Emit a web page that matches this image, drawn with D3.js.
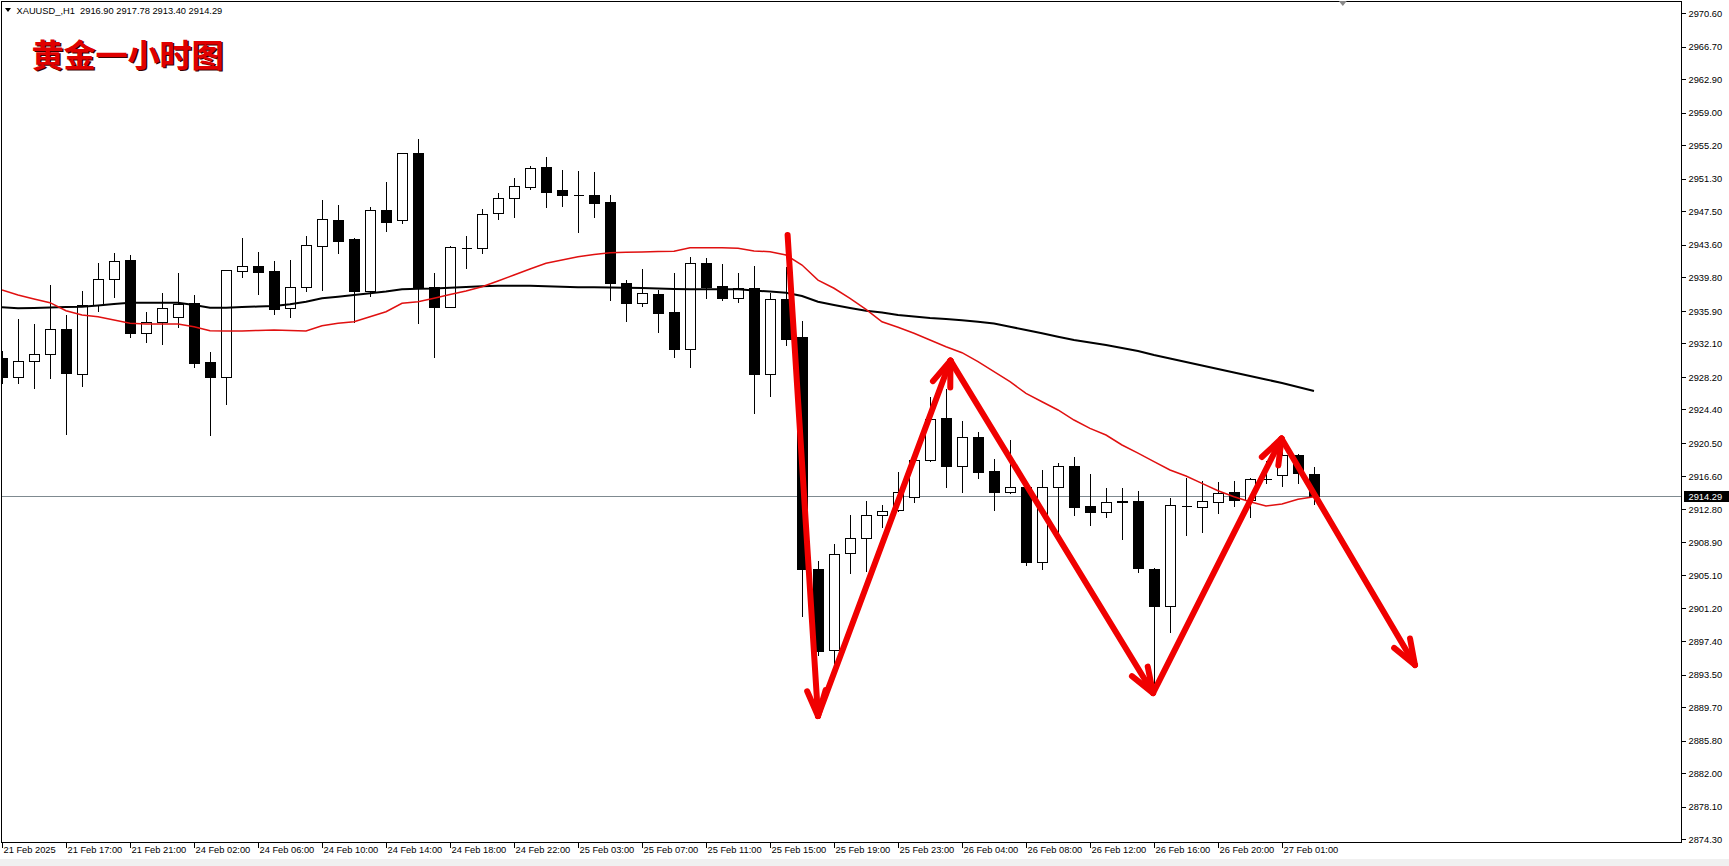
<!DOCTYPE html>
<html><head><meta charset="utf-8">
<script src="https://cdn.jsdelivr.net/npm/d3@7"></script>
<style>
html,body{margin:0;padding:0;background:#fff;overflow:hidden;}
svg{display:block;}
.ax text{font-family:"Liberation Sans",Arial,sans-serif;font-size:9.3px;fill:#000;}
</style></head>
<body>
<svg id="chart" width="1729" height="866"></svg>
<script>
// ---------- data ----------
const symbolTitle = "XAUUSD_,H1  2916.90 2917.78 2913.40 2914.29";
const chartTitle = "黄金一小时图";
const openP = [2930.36,2928.22,2930.01,2930.83,2933.74,2928.49,2936.54,2939.57,2941.79,2933.28,
2934.56,2935.14,2936.77,2929.90,2928.15,2940.54,2941.13,2940.54,2936.19,2938.64,
2943.42,2946.49,2944.27,2938.25,2947.66,2946.45,2954.26,2938.64,2936.38,2943.19,
2943.19,2947.27,2949.02,2950.37,2952.67,2949.99,2949.44,2949.40,2948.59,2939.10,
2936.77,2937.86,2935.72,2931.49,2941.44,2938.79,2937.36,2938.52,2928.49,2937.28,
2932.89,2905.76,2896.35,2907.63,2909.37,2912.05,2912.68,2914.15,2918.51,2923.37,
2917.85,2921.23,2917.22,2914.82,2915.40,2906.58,2915.32,2917.85,2913.14,2912.48,
2913.65,2913.77,2905.76,2901.52,2913.14,2913.07,2913.65,2914.74,2913.84,2916.25,
2916.76,2919.09,2916.90];
const highP = [2931.33,2935.02,2934.52,2939.03,2935.49,2938.33,2941.55,2942.72,2942.49,2935.88,
2938.06,2940.39,2937.86,2931.22,2940.70,2944.47,2942.87,2941.83,2941.94,2944.70,
2948.94,2948.35,2944.55,2948.12,2951.04,2954.38,2956.01,2940.39,2943.57,2944.74,
2947.85,2949.79,2951.54,2952.90,2953.95,2952.44,2952.32,2952.20,2949.52,2939.57,
2940.93,2938.44,2940.39,2942.29,2942.21,2941.44,2940.39,2941.24,2938.13,2941.13,
2934.83,2906.85,2908.87,2912.21,2913.84,2913.34,2917.26,2918.70,2925.97,2926.90,
2923.17,2921.89,2918.70,2920.96,2915.79,2917.42,2918.24,2918.97,2916.95,2915.40,
2915.40,2915.01,2906.07,2914.15,2916.56,2916.18,2916.10,2916.18,2916.56,2918.51,
2919.67,2919.28,2917.78];
const lowP = [2927.45,2927.45,2926.86,2928.03,2921.50,2927.17,2935.92,2937.55,2932.81,2932.30,
2931.99,2934.05,2929.39,2921.42,2925.00,2939.88,2937.82,2935.49,2935.14,2938.25,
2938.33,2942.68,2934.64,2937.63,2945.21,2946.10,2934.52,2930.56,2936.31,2940.85,
2942.68,2946.61,2946.88,2950.10,2948.04,2948.16,2945.13,2946.88,2937.16,2934.75,
2936.50,2933.39,2930.56,2929.39,2937.36,2937.16,2936.97,2923.95,2925.97,2931.88,
2900.32,2895.80,2894.80,2905.29,2905.60,2910.73,2912.60,2913.65,2918.45,2915.40,
2914.82,2916.37,2912.68,2914.70,2906.30,2905.76,2909.96,2912.09,2910.93,2911.90,
2909.26,2905.49,2892.47,2898.49,2909.76,2910.15,2912.29,2913.14,2911.90,2915.86,
2915.48,2915.79,2913.40];
const closeP = [2928.22,2930.05,2930.83,2933.74,2928.61,2936.54,2939.57,2941.67,2933.28,2934.56,
2936.19,2936.70,2929.86,2928.15,2940.62,2941.13,2940.47,2936.15,2938.64,2943.54,
2946.61,2944.08,2938.25,2947.66,2946.29,2954.26,2938.52,2936.38,2943.38,2943.26,
2947.15,2949.02,2950.45,2952.51,2949.79,2949.44,2949.40,2948.51,2939.18,2936.77,
2937.94,2935.68,2931.49,2941.44,2938.72,2937.36,2938.52,2928.49,2937.24,2932.65,
2905.76,2896.28,2907.51,2909.37,2912.09,2912.60,2914.82,2918.51,2923.25,2917.85,
2921.23,2917.15,2914.82,2915.32,2906.58,2915.32,2917.85,2913.07,2912.48,2913.65,
2913.73,2905.88,2901.52,2913.26,2913.20,2913.69,2914.70,2913.84,2916.25,2916.30,
2919.09,2916.95,2914.29];
const maRed = [2938.33,2937.74,2937.28,2936.85,2935.91,2935.41,2935.21,2934.83,2934.45,2934.36,
2934.36,2934.36,2934.05,2933.58,2933.55,2933.55,2933.61,2933.66,2933.61,2933.55,
2934.17,2934.45,2934.63,2935.21,2935.80,2936.78,2936.96,2937.36,2937.80,2938.21,
2938.71,2939.38,2940.08,2940.78,2941.44,2941.83,2942.21,2942.47,2942.68,2942.72,
2942.76,2942.82,2942.84,2943.26,2943.26,2943.26,2943.19,2942.88,2942.79,2942.41,
2941.24,2939.49,2938.53,2937.36,2936.08,2934.63,2933.98,2933.28,2932.50,2931.72,
2931.02,2929.97,2928.80,2927.64,2926.28,2925.30,2924.34,2923.17,2922.20,2921.42,
2920.26,2919.32,2918.33,2917.34,2916.64,2915.79,2914.93,2914.23,2913.65,2913.14,
2913.37,2913.93,2914.23];
const maBlack = [2936.31,2936.19,2936.23,2936.29,2936.35,2936.38,2936.52,2936.70,2936.85,2936.85,
2936.85,2936.85,2936.58,2936.26,2936.26,2936.35,2936.40,2936.46,2936.66,2936.96,
2937.36,2937.55,2937.74,2937.94,2938.15,2938.41,2938.48,2938.50,2938.60,2938.68,
2938.76,2938.82,2938.83,2938.82,2938.76,2938.70,2938.64,2938.64,2938.62,2938.60,
2938.56,2938.50,2938.44,2938.41,2938.41,2938.41,2938.41,2938.27,2938.15,2938.01,
2937.63,2936.96,2936.58,2936.23,2935.91,2935.70,2935.41,2935.24,2935.06,2934.95,
2934.80,2934.63,2934.42,2934.05,2933.66,2933.28,2932.88,2932.50,2932.21,2931.92,
2931.57,2931.22,2930.75,2930.34,2929.93,2929.53,2929.12,2928.71,2928.30,2927.89,
2927.49,2927.02,2926.55];
const priceTicks = [2970.60,2966.70,2962.90,2959.00,2955.20,2951.30,2947.50,2943.60,2939.80,2935.90,
2932.10,2928.20,2924.40,2920.50,2916.60,2912.80,2908.90,2905.10,2901.20,2897.40,
2893.50,2889.70,2885.80,2882.00,2878.10,2874.30];
const timeTickBars = [0,4,8,12,16,20,24,28,32,36,40,44,48,52,56,60,64,68,72,76,80];
const timeTickLabels = ["21 Feb 2025","21 Feb 17:00","21 Feb 21:00","24 Feb 02:00","24 Feb 06:00",
"24 Feb 10:00","24 Feb 14:00","24 Feb 18:00","24 Feb 22:00","25 Feb 03:00","25 Feb 07:00",
"25 Feb 11:00","25 Feb 15:00","25 Feb 19:00","25 Feb 23:00","26 Feb 04:00","26 Feb 08:00",
"26 Feb 12:00","26 Feb 16:00","26 Feb 20:00","27 Feb 01:00"];
const lastPrice = 2914.29;
const arrowBars = [49.1, 51.0, 59.28, 71.94, 79.97, 88.31];
const arrowPrices = [2944.74, 2888.66, 2930.10, 2891.34, 2921.01, 2894.61];
const shiftMarkerBar = 83.8;

// ---------- layout ----------
const W = 1729, H = 866;
const plotL = 1.5, plotT = 1.5, plotR = 1681.5, plotB = 842.5;
const svg = d3.select("#chart");
svg.append("rect").attr("width", W).attr("height", H).attr("fill", "#fff");
svg.append("rect").attr("x", 0).attr("y", 859).attr("width", W).attr("height", 7).attr("fill", "#f0f0f0");

const x = d3.scaleLinear().domain([0, 82]).range([2, 1314]);
const y = d3.scaleLinear().domain([2874.3, 2970.6]).range([839.2, 13.2]);

svg.append("defs").append("clipPath").attr("id", "pc")
  .append("rect").attr("x", plotL + 0.5).attr("y", plotT + 0.5)
  .attr("width", plotR - plotL - 1).attr("height", plotB - plotT - 1);
const g = svg.append("g").attr("clip-path", "url(#pc)");

// price line
const py = Math.round(y(lastPrice)) + 0.5;
g.append("line").attr("x1", plotL).attr("x2", plotR).attr("y1", py).attr("y2", py)
  .attr("stroke", "#7f8a90").attr("stroke-width", 1);

// candles
const bars = openP.map((o, i) => ({i, o, h: highP[i], l: lowP[i], c: closeP[i]}));
const cg = g.append("g").attr("shape-rendering", "crispEdges");
bars.forEach(d => {
  const cx = Math.round(x(d.i)) + 0.5;
  const top = Math.round(y(Math.max(d.o, d.c))) + 0.5;
  const bot = Math.round(y(Math.min(d.o, d.c))) + 0.5;
  cg.append("line").attr("x1", cx).attr("x2", cx)
    .attr("y1", Math.round(y(d.h)) + 0.5).attr("y2", Math.round(y(d.l)) + 0.5)
    .attr("stroke", "#000").attr("stroke-width", 1);
  if (bot - top < 1) {
    cg.append("line").attr("x1", cx - 5).attr("x2", cx + 5).attr("y1", top).attr("y2", top)
      .attr("stroke", "#000").attr("stroke-width", 1);
  } else {
    cg.append("rect").attr("x", cx - 5).attr("y", top).attr("width", 10).attr("height", bot - top)
      .attr("fill", d.c >= d.o ? "#fff" : "#000").attr("stroke", "#000").attr("stroke-width", 1);
  }
});

// moving averages
const line = d3.line().x((d, i) => x(i)).y(d => y(d));
g.append("path").attr("d", line(maBlack)).attr("fill", "none").attr("stroke", "#000").attr("stroke-width", 2);
g.append("path").attr("d", line(maRed)).attr("fill", "none").attr("stroke", "#e01010").attr("stroke-width", 1.5);

// arrows
const ag = g.append("g").attr("stroke", "#f00000").attr("stroke-width", 6)
  .attr("stroke-linecap", "round").attr("stroke-linejoin", "round").attr("fill", "none");
const pts = arrowBars.map((b, k) => [x(b), y(arrowPrices[k])]);
for (let k = 1; k < pts.length; k++) {
  const s = pts[k - 1], t = pts[k];
  ag.append("line").attr("x1", s[0]).attr("y1", s[1]).attr("x2", t[0]).attr("y2", t[1]);
  const dx = s[0] - t[0], dy = s[1] - t[1], len = Math.hypot(dx, dy);
  const ux = dx / len, uy = dy / len;
  [20, -20].forEach(a => {
    const r = a * Math.PI / 180;
    const bx = ux * Math.cos(r) - uy * Math.sin(r), by = ux * Math.sin(r) + uy * Math.cos(r);
    ag.append("line").attr("x1", t[0]).attr("y1", t[1]).attr("x2", t[0] + 27 * bx).attr("y2", t[1] + 27 * by);
  });
}

// frame
svg.append("rect").attr("x", plotL).attr("y", plotT).attr("width", plotR - plotL).attr("height", plotB - plotT)
  .attr("fill", "none").attr("stroke", "#000").attr("stroke-width", 1);

// shift marker
const sx = x(shiftMarkerBar);
svg.append("path").attr("d", `M${sx - 4},1 L${sx + 4},1 L${sx},6 Z`).attr("fill", "#8a8a8a");

// y axis
const yAxis = d3.axisRight(y).tickValues(priceTicks).tickFormat(d3.format(".2f")).tickSize(4).tickPadding(3);
const ya = svg.append("g").attr("class", "ax").attr("transform", `translate(${plotR},0)`).call(yAxis);
ya.select(".domain").remove();
ya.selectAll("line").attr("stroke", "#000").attr("shape-rendering", "crispEdges");
ya.selectAll("text").attr("dy", "0.34em");

// current price label
svg.append("rect").attr("x", plotR + 2.5).attr("y", py - 5.5).attr("width", W - plotR - 2.5).attr("height", 11).attr("fill", "#000");
svg.append("text").attr("class", "ax").attr("x", plotR + 7).attr("y", py).attr("dy", "0.34em")
  .attr("font-family", "Liberation Sans, Arial, sans-serif").attr("font-size", "9.3px").attr("fill", "#fff").text(d3.format(".2f")(lastPrice));

// x axis
const xAxis = d3.axisBottom(x).tickValues(timeTickBars).tickFormat((d, i) => timeTickLabels[i]).tickSize(5);
const xa = svg.append("g").attr("class", "ax").attr("transform", `translate(0,${plotB})`).call(xAxis);
xa.select(".domain").remove();
xa.selectAll(".tick").attr("transform", d => `translate(${Math.round(x(d)) + 0.5},0)`);
xa.selectAll("line").attr("stroke", "#000").attr("shape-rendering", "crispEdges");
xa.selectAll("text").attr("text-anchor", "start").attr("x", 1).attr("y", 4).attr("dy", "0.71em");

// header
svg.append("path").attr("d", "M5,8 L11,8 L8,12 Z").attr("fill", "#000");
svg.append("text").attr("x", 16.5).attr("y", 13.5).attr("font-family", "Liberation Sans, Arial, sans-serif")
  .attr("font-size", "9.3px").attr("fill", "#000").attr("xml:space", "preserve").style("white-space", "pre").text(symbolTitle);
const tg = svg.append("g").attr("font-family", "'Noto Sans CJK SC', sans-serif").attr("font-weight", 700).attr("font-size", "32px");
tg.append("text").attr("x", 33).attr("y", 68).attr("fill", "#3a0000").text(chartTitle);
tg.append("text").attr("x", 31.5).attr("y", 66.5).attr("fill", "#e00000").text(chartTitle);
</script>
</body></html>
